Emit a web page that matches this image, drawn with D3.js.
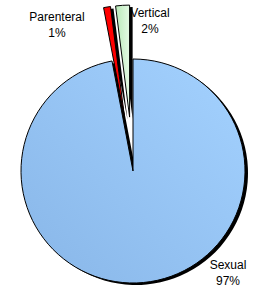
<!DOCTYPE html>
<html><head><meta charset="utf-8">
<script src="https://cdn.jsdelivr.net/npm/d3@7"></script>
<style>body{margin:0;background:#fff}svg{display:block}</style>
</head><body>
<script>
const categories = ["Sexual", "Parenteral", "Vertical"];
const values = [97, 1, 2];
const labels = ["97%", "1%", "2%"];
const exploded = [false, true, true];

const W = 257, H = 288;
const cx = 133, cy = 171, R = 112, explode = 54;
const svg = d3.select("body").append("svg").attr("width", W).attr("height", H);
const defs = svg.append("defs");
const gB = defs.append("linearGradient").attr("id","gb").attr("x1","1").attr("y1","0").attr("x2","0").attr("y2","1");
gB.append("stop").attr("offset","0").attr("stop-color","#a4d2ff");
gB.append("stop").attr("offset","1").attr("stop-color","#88b6e8");
const gG = defs.append("linearGradient").attr("id","gg").attr("x1","0").attr("y1","0").attr("x2","1").attr("y2","0");
gG.append("stop").attr("offset","0").attr("stop-color","#b8eab8");
gG.append("stop").attr("offset","1").attr("stop-color","#e4fae4");
const fills = ["url(#gb)", "#ff0000", "url(#gg)"];

const pie = d3.pie().sort(null).value(d => d)(values);
const arc = d3.arc().innerRadius(0).outerRadius(R);
const g = svg.append("g").attr("transform", `translate(${cx},${cy})`);
function off(d, i) {
  if (!exploded[i]) return [0, 0];
  const a = (d.startAngle + d.endAngle) / 2;
  return [explode * Math.sin(a), -explode * Math.cos(a)];
}
g.selectAll("path.sh").data(pie).join("path").attr("class","sh")
  .attr("d", arc).attr("fill", "#000")
  .attr("transform", (d, i) => { const o = off(d, i); return `translate(${o[0]+3},${o[1]+2})`; });
g.selectAll("path.sl").data(pie).join("path").attr("class","sl")
  .attr("d", arc).attr("fill", (d, i) => fills[i]).attr("stroke", "#000").attr("stroke-width", 1)
  .attr("stroke-linejoin","round")
  .attr("transform", (d, i) => { const o = off(d, i); return `translate(${o[0]},${o[1]})`; });

const labelPos = [[228, 269], [57, 21], [150, 17]];
const t = svg.append("g").attr("font-family", "Liberation Sans, Arial, sans-serif").attr("font-size", 12).attr("fill", "#000");
categories.forEach((c, i) => {
  const txt = t.append("text").attr("text-anchor", "middle").attr("x", labelPos[i][0]).attr("y", labelPos[i][1]);
  txt.append("tspan").attr("x", labelPos[i][0]).text(c);
  txt.append("tspan").attr("x", labelPos[i][0]).attr("dy", 15.5).text(labels[i]);
});
</script>
</body></html>
